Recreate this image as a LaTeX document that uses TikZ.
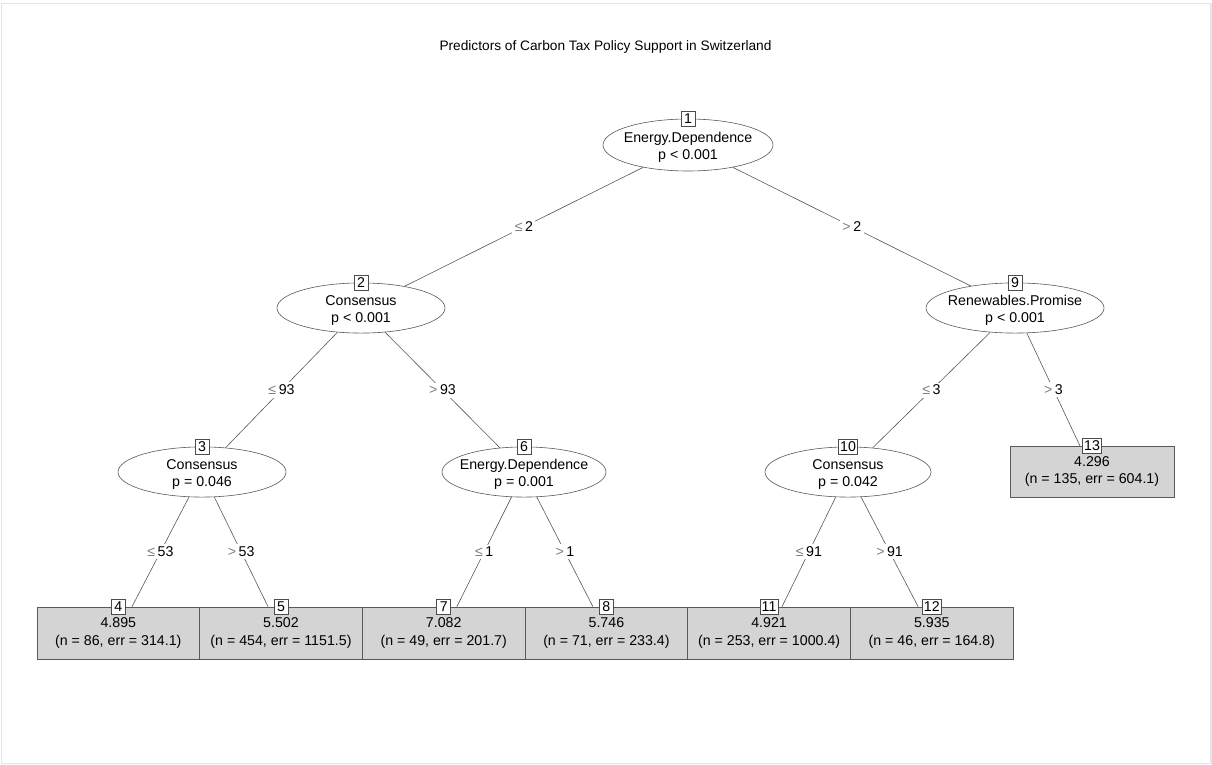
\documentclass[tikz,border=0pt]{standalone}
\usepackage{fontspec}
\setmainfont{Liberation Sans}
\usetikzlibrary{shapes.geometric}
\newcommand{\LEQ}{{\color{black!50}≤}\hspace{2.5pt}}
\newcommand{\GTR}{{\color{black!50}>}\hspace{2.5pt}}
\newcommand{\TOPSTRUT}{\rule{0pt}{15pt}}
\begin{document}
\begin{tikzpicture}[x=1pt,y=-1pt,
  every node/.style={font=\fontsize{14.2}{17.5}\selectfont},
  inner/.style={ellipse,draw=black!65,line width=0.6pt,fill=white,inner xsep=-25pt,inner ysep=0pt,align=center},
  leaf/.style={rectangle,draw=black!65,line width=0.6pt,fill=black!17,minimum width=162.7pt,minimum height=52pt,inner sep=0pt,align=center},
  idbox/.style={rectangle,draw=black!70,fill=white,line width=0.6pt,inner sep=1.5pt,minimum height=15pt,minimum width=14pt},
  edge/.style={draw=black!65,line width=0.6pt},
  elab/.style={fill=white,inner sep=2.5pt}
]
\useasboundingbox (0,0) rectangle (1212,765);
\fill[white] (0,0) rectangle (1212,765);
\draw[black!10,line width=1.5pt] (1.5,3.5) rectangle (1211,763.5);

\node[font=\fontsize{13.7}{16}\selectfont] (title) at (605.5,47) {Predictors of Carbon Tax Policy Support in Switzerland};

% inner nodes
\node[inner,minimum width=170pt,minimum height=52pt] (n1) at (688,145) {\TOPSTRUT Energy.Dependence\\p < 0.001};
\node[inner,minimum width=168pt,minimum height=50pt] (n2) at (361,308) {\TOPSTRUT Consensus\\p < 0.001};
\node[inner,minimum width=178pt,minimum height=50pt] (n9) at (1015,308) {\TOPSTRUT Renewables.Promise\\p < 0.001};
\node[inner,minimum width=168pt,minimum height=48pt] (n3) at (202,472) {\TOPSTRUT Consensus\\p = 0.046};
\node[inner,minimum width=164pt,minimum height=48pt] (n6) at (524,472) {\TOPSTRUT Energy.Dependence\\p = 0.001};
\node[inner,minimum width=166pt,minimum height=48pt] (n10) at (848,472) {\TOPSTRUT Consensus\\p = 0.042};

% leaves
\node[leaf] (n4) at (118.3,633) {4.895\\(n = 86, err = 314.1)};
\node[leaf] (n5) at (281.0,633) {5.502\\(n = 454, err = 1151.5)};
\node[leaf] (n7) at (443.7,633) {7.082\\(n = 49, err = 201.7)};
\node[leaf] (n8) at (606.4,633) {5.746\\(n = 71, err = 233.4)};
\node[leaf] (n11) at (769.1,633) {4.921\\(n = 253, err = 1000.4)};
\node[leaf] (n12) at (931.8,633) {5.935\\(n = 46, err = 164.8)};
\node[leaf,minimum width=164pt,minimum height=51pt] (n13) at (1092,471.5) {4.296\\(n = 135, err = 604.1)};

% edges
\draw[edge] (n1) -- node[elab] (e2) {\LEQ 2} (n2);
\draw[edge] (n1) -- node[elab] (e9) {\GTR 2} (n9);
\draw[edge] (n2) -- node[elab] (e3) {\LEQ 93} (n3);
\draw[edge] (n2) -- node[elab] (e6) {\GTR 93} (n6);
\draw[edge] (n9) -- node[elab] (e10) {\LEQ 3} (n10);
\draw[edge] (n9) -- node[elab] (e13) {\GTR 3} (n13);
\draw[edge] (n3) -- node[elab] (e4) {\LEQ 53} (n4);
\draw[edge] (n3) -- node[elab] (e5) {\GTR 53} (n5);
\draw[edge] (n6) -- node[elab] (e7) {\LEQ 1} (n7);
\draw[edge] (n6) -- node[elab] (e8) {\GTR 1} (n8);
\draw[edge] (n10) -- node[elab] (e11) {\LEQ 91} (n11);
\draw[edge] (n10) -- node[elab] (e12) {\GTR 91} (n12);

% id boxes
\node[idbox] (l1) at (n1.north) {1};
\node[idbox] (l2) at (n2.north) {2};
\node[idbox] (l9) at (n9.north) {9};
\node[idbox] (l3) at (n3.north) {3};
\node[idbox] (l6) at (n6.north) {6};
\node[idbox] (l10) at (n10.north) {10};
\node[idbox] (l4) at (n4.north) {4};
\node[idbox] (l5) at (n5.north) {5};
\node[idbox] (l7) at (n7.north) {7};
\node[idbox] (l8) at (n8.north) {8};
\node[idbox] (l11) at (n11.north) {11};
\node[idbox] (l12) at (n12.north) {12};
\node[idbox] (l13) at (n13.north) {13};
\end{tikzpicture}
\end{document}
